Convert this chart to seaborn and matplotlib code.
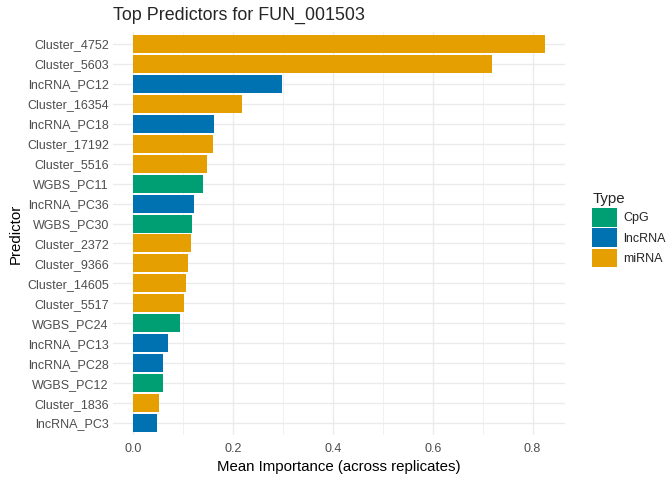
import pandas as pd
import seaborn as sns
import matplotlib.pyplot as plt
from matplotlib.patches import Patch
from matplotlib.ticker import MultipleLocator

# predictors, top to bottom
predictors = ['Cluster_4752', 'Cluster_5603', 'lncRNA_PC12', 'Cluster_16354', 'lncRNA_PC18',
              'Cluster_17192', 'Cluster_5516', 'WGBS_PC11', 'lncRNA_PC36', 'WGBS_PC30',
              'Cluster_2372', 'Cluster_9366', 'Cluster_14605', 'Cluster_5517', 'WGBS_PC24',
              'lncRNA_PC13', 'lncRNA_PC28', 'WGBS_PC12', 'Cluster_1836', 'lncRNA_PC3']
importance = [0.824, 0.718, 0.298, 0.217, 0.161, 0.159, 0.148, 0.140, 0.122, 0.118,
              0.116, 0.110, 0.106, 0.102, 0.094, 0.070, 0.060, 0.060, 0.052, 0.048]
types = ['miRNA', 'miRNA', 'lncRNA', 'miRNA', 'lncRNA', 'miRNA', 'miRNA', 'CpG', 'lncRNA', 'CpG',
         'miRNA', 'miRNA', 'miRNA', 'miRNA', 'CpG', 'lncRNA', 'lncRNA', 'CpG', 'miRNA', 'lncRNA']

type_levels = ['CpG', 'lncRNA', 'miRNA']
type_colors = ['#009E73', '#0072B2', '#E69F00']
palette = dict(zip(type_levels, type_colors))

df = pd.DataFrame({'Predictor': predictors, 'Importance': importance, 'Type': types})

sns.set_style("white")
plt.rcParams['font.family'] = ['Liberation Sans', 'DejaVu Sans']

fig = plt.figure(figsize=(6.72, 4.8), dpi=100)
ax = fig.add_axes([113 / 672, 1 - 435 / 480, (565 - 113) / 672, (435 - 32) / 480])

sns.barplot(data=df, x='Importance', y='Predictor', hue='Type', hue_order=type_levels,
            palette=palette, dodge=False, width=0.9, saturation=1, order=predictors,
            linewidth=0, edgecolor='none', legend=False, ax=ax, zorder=3)

ax.set_xlim(-0.041, 0.865)
ax.set_ylim(len(predictors) - 0.4, -0.6)
ax.xaxis.set_major_locator(MultipleLocator(0.2))
ax.xaxis.set_minor_locator(MultipleLocator(0.1))
ax.xaxis.set_major_formatter(plt.FuncFormatter(lambda v, p: f"{v:.1f}"))
ax.grid(True, which='major', axis='both', color='#EBEBEB', linewidth=1.0, zorder=0)
ax.grid(True, which='minor', axis='x', color='#EBEBEB', linewidth=0.5, zorder=0)
ax.set_axisbelow(True)
for s in ax.spines.values():
    s.set_visible(False)
ax.tick_params(axis='both', which='both', length=0, labelsize=9.0, labelcolor='#4D4D4D')
ax.tick_params(axis='x', pad=6)
ax.tick_params(axis='y', pad=3)

ax.set_xlabel('Mean Importance (across replicates)', fontsize=10.8, color='black', labelpad=3)
ax.set_ylabel('Predictor', fontsize=10.8, color='black', labelpad=3)
ax.set_title('Top Predictors for FUN_001503', fontsize=12.9, loc='left', x=-0.0, pad=9)

handles = [Patch(facecolor=c, edgecolor='none') for c in type_colors]
fig.legend(handles, type_levels, title='Type', loc='upper left',
           bbox_to_anchor=(586 / 672, 1 - 186 / 480), frameon=False,
           fontsize=9.0, title_fontsize=10.8, handlelength=1.95, handleheight=1.95,
           labelspacing=0.12, handletextpad=0.5, borderpad=0, alignment='left')

plt.savefig('out.png', dpi=100)
